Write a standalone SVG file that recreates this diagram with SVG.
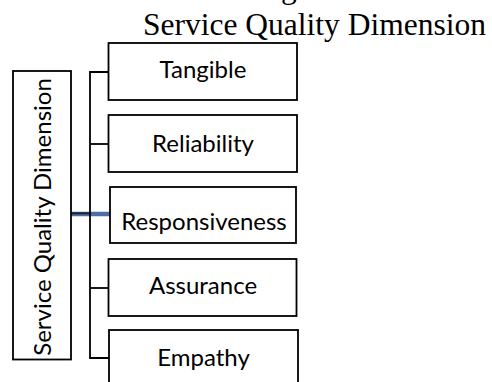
<svg xmlns="http://www.w3.org/2000/svg" width="492" height="382" viewBox="0 0 492 382">
  <style>
    .box { fill: #ffffff; stroke: #000000; stroke-width: 1.8; }
    .wire { fill: none; stroke: #000000; stroke-width: 1.8; }
    .lbl { font-family: Lato, "Open Sans", "Liberation Sans", sans-serif; font-size: 24px; fill: #000000; text-anchor: middle; }
    .title { font-family: "Liberation Serif", "Times New Roman", serif; font-size: 31.5px; fill: #000000; }
  </style>
  <rect width="492" height="382" fill="#ffffff"/>

  <!-- caption lines -->
  <text class="title" x="281" y="-2">g</text>
  <text class="title" x="143" y="35">Service Quality Dimension</text>

  <!-- connectors -->
  <g id="connectors">
    <line x1="71" y1="214" x2="110" y2="214" stroke="#4a6fa3" stroke-width="4.5"/>
    <line x1="71" y1="213.3" x2="91" y2="213.3" stroke="#1c2430" stroke-width="2"/>
    <path class="wire" d="M109,72 H90 V358 H109"/>
    <line class="wire" x1="90" y1="144" x2="109" y2="144"/>
    <line class="wire" x1="90" y1="288" x2="109" y2="288"/>
  </g>

  <g id="root">
    <rect class="box" x="13" y="71" width="58" height="288.5"/>
    <text class="lbl" transform="translate(51,217) rotate(-90)">Service Quality Dimension</text>
  </g>

  <g id="tangible">
    <rect class="box" x="108.5" y="43" width="188.5" height="57"/>
    <text class="lbl" x="203" y="78">Tangible</text>
  </g>

  <g id="reliability">
    <rect class="box" x="108.5" y="115" width="188.5" height="57"/>
    <text class="lbl" x="203" y="152">Reliability</text>
  </g>

  <g id="responsiveness">
    <rect class="box" x="110" y="187" width="186" height="56"/>
    <text class="lbl" x="204" y="229.5">Responsiveness</text>
  </g>

  <g id="assurance">
    <rect class="box" x="108.5" y="259" width="188" height="57"/>
    <text class="lbl" x="203" y="294">Assurance</text>
  </g>

  <g id="empathy">
    <rect class="box" x="109" y="330" width="189" height="60"/>
    <text class="lbl" x="203.5" y="365.5">Empathy</text>
  </g>
</svg>
